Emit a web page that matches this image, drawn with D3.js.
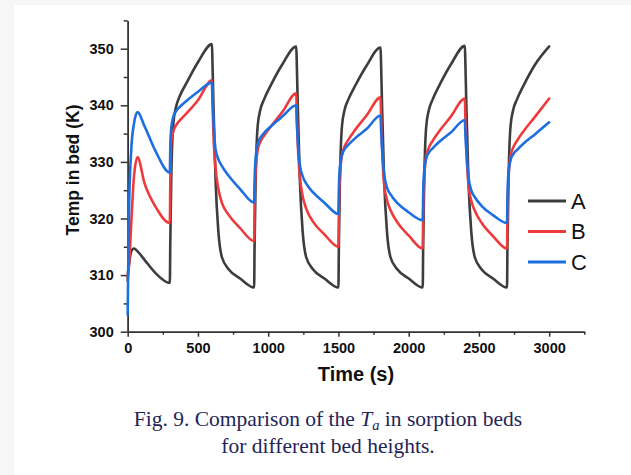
<!DOCTYPE html>
<html>
<head>
<meta charset="utf-8">
<script src="https://cdn.jsdelivr.net/npm/d3@7"></script>
<style>
  body { margin: 0; background: #f6f6f6; }
  svg { display: block; }
</style>
</head>
<body>
<svg id="chart" width="631" height="475"></svg>
<script>
// time grid (s), shared by the three curves
const TIME = [
  0, 3, 10, 25, 45, 70, 120, 200, 300,
  303, 310, 325, 345, 370, 420, 500, 600,
  603, 610, 625, 645, 670, 720, 800, 900,
  903, 910, 925, 945, 970, 1020, 1100, 1200,
  1203, 1210, 1225, 1245, 1270, 1320, 1400, 1500,
  1503, 1510, 1525, 1545, 1570, 1620, 1700, 1800,
  1803, 1810, 1825, 1845, 1870, 1920, 2000, 2100,
  2103, 2110, 2125, 2145, 2170, 2220, 2300, 2400,
  2403, 2410, 2425, 2445, 2470, 2520, 2600, 2700,
  2703, 2710, 2725, 2745, 2770, 2820, 2900, 3000
];

const TEMP_A = [
  309, 310.5, 312, 314.2, 314.7, 314.2, 312.7, 310.3, 308.6,
  315.5, 327, 336.8, 339.8, 341.6, 344.0, 347.6, 350.8,
  348, 340.5, 327, 317.8, 313.2, 311.0, 309.4, 307.8,
  315, 326, 336.3, 339.3, 341.0, 343.6, 347.2, 350.4,
  348, 340.5, 327, 317.8, 313.2, 311.0, 309.4, 307.8,
  315, 326, 336.3, 339.3, 341.0, 343.5, 347.0, 350.2,
  347.8, 340.3, 327, 317.8, 313.2, 311.0, 309.4, 307.8,
  315, 326, 336.3, 339.3, 341.0, 343.6, 347.2, 350.5,
  348, 340.5, 327, 317.8, 313.2, 311.0, 309.4, 307.8,
  315, 326, 336.3, 339.3, 341.0, 343.6, 347.2, 350.4
];

const TEMP_B = [
  309.5, 310.5, 312, 319, 327.5, 330.8, 326.2, 322.0, 319.2,
  326, 333.5, 335.4, 336.5, 337.3, 338.6, 340.9, 344.4,
  341.5, 335.2, 329.0, 325.3, 322.8, 320.6, 318.3, 316.0,
  322, 328, 332.0, 333.6, 334.6, 336.3, 338.8, 342.1,
  339, 333.5, 327.5, 324.0, 321.8, 319.4, 317.2, 315.0,
  321, 327, 331.2, 332.8, 333.9, 335.7, 338.2, 341.4,
  338.5, 333, 326.0, 323.3, 321.5, 319.3, 317.0, 314.7,
  320.5, 326.8, 331.0, 332.6, 333.7, 335.5, 338.0, 341.2,
  338.3, 332.8, 326.0, 323.2, 321.4, 319.2, 316.9, 314.7,
  320.5, 326.8, 331.0, 332.6, 333.7, 335.5, 338.0, 341.2
];

const TEMP_C = [
  303, 310, 322, 332, 336.8, 338.8, 336.3, 331.8, 328.1,
  332.5, 336, 338.0, 339.0, 339.7, 340.8, 342.4, 344.0,
  341.5, 337.5, 332.3, 330.5, 329.3, 327.5, 325.2, 322.8,
  326.5, 330.5, 333.2, 334.3, 335.1, 336.3, 338.0, 340.0,
  337.5, 334, 329.5, 327.5, 326.2, 324.6, 322.8, 320.8,
  325, 329, 331.2, 332.3, 333.0, 334.2, 335.8, 338.2,
  336, 332.5, 328.0, 325.5, 324.3, 322.7, 321.1, 319.7,
  324, 328.3, 330.6, 331.7, 332.4, 333.6, 335.2, 337.4,
  335.3, 332, 327.5, 325.0, 323.8, 322.2, 320.6, 319.2,
  323.6, 328, 330.3, 331.4, 332.1, 333.3, 334.9, 337.0
];

const SERIES_NAMES = ["A", "B", "C"];
const X_TICKS = [0, 500, 1000, 1500, 2000, 2500, 3000];
const X_MINOR = [250, 750, 1250, 1750, 2250, 2750, 3250];
const Y_TICKS = [300, 310, 320, 330, 340, 350];
const Y_MINOR = [305, 315, 325, 335, 345, 355];

const COLORS = ["#3d3d3d", "#ef3a3c", "#1d6fe0"];
const AXIS_FONT = "'Liberation Sans', Arial, sans-serif";

const svg = d3.select("#chart");

// page background with a faint grey margin at left/top
svg.append("rect").attr("x", 14).attr("y", 5)
  .attr("width", 617).attr("height", 470).attr("fill", "#ffffff");

const x = d3.scaleLinear().domain([0, 3250]).range([127.7, 584.3]);
const y = d3.scaleLinear().domain([300, 355]).range([331.7, 20.4]);

const styleAxis = (g) => {
  g.select(".domain").attr("stroke", "#333").attr("stroke-width", 1.5);
  g.selectAll(".tick line").attr("stroke", "#333").attr("stroke-width", 1.5);
  g.selectAll(".tick text")
    .attr("fill", "#111")
    .attr("font-family", AXIS_FONT)
    .attr("font-weight", "bold")
    .attr("font-size", "14.5px");
};

// minor ticks first, then major axes on top
svg.append("g")
  .attr("transform", `translate(0,${y(300)})`)
  .call(d3.axisBottom(x).tickValues(X_MINOR).tickSize(3).tickSizeOuter(0).tickFormat(""))
  .call(styleAxis);

svg.append("g")
  .attr("transform", `translate(${x(0)},0)`)
  .call(d3.axisLeft(y).tickValues(Y_MINOR).tickSize(4).tickSizeOuter(0).tickFormat(""))
  .call(styleAxis);

svg.append("g")
  .attr("transform", `translate(0,${y(300)})`)
  .call(d3.axisBottom(x).tickValues(X_TICKS).tickSize(5).tickPadding(6)
    .tickSizeOuter(0).tickFormat(d3.format("d")))
  .call(styleAxis);

svg.append("g")
  .attr("transform", `translate(${x(0)},0)`)
  .call(d3.axisLeft(y).tickValues(Y_TICKS).tickSize(7).tickPadding(7)
    .tickSizeOuter(0).tickFormat(d3.format("d")))
  .call(styleAxis);

// axis titles
svg.append("text")
  .attr("x", 356)
  .attr("y", 381)
  .attr("text-anchor", "middle")
  .attr("font-family", AXIS_FONT)
  .attr("font-weight", "bold")
  .attr("font-size", "20px")
  .attr("fill", "#111")
  .text("Time (s)");

svg.append("text")
  .attr("transform", "translate(79,170) rotate(-90)")
  .attr("text-anchor", "middle")
  .attr("font-family", AXIS_FONT)
  .attr("font-weight", "bold")
  .attr("font-size", "17.5px")
  .attr("fill", "#111")
  .text("Temp in bed (K)");

// curves
const line = d3.line()
  .x((d) => x(d[0]))
  .y((d) => y(d[1]))
  .curve(d3.curveMonotoneX);

[TEMP_A, TEMP_B, TEMP_C].forEach((values, i) => {
  svg.append("path")
    .datum(TIME.map((t, k) => [t, values[k]]))
    .attr("d", line)
    .attr("fill", "none")
    .attr("stroke", COLORS[i])
    .attr("stroke-width", 2.6)
    .attr("stroke-linejoin", "round")
    .attr("stroke-linecap", "round");
});

// legend
const legend = svg.append("g").attr("transform", "translate(528,201)");
SERIES_NAMES.forEach((name, i) => {
  const row = legend.append("g").attr("transform", `translate(0,${i * 30.5})`);
  row.append("line")
    .attr("x1", 0).attr("x2", 38)
    .attr("stroke", COLORS[i]).attr("stroke-width", 3);
  row.append("text")
    .attr("x", 43).attr("y", 7.8)
    .attr("font-family", AXIS_FONT)
    .attr("font-size", "22px")
    .attr("fill", "#111")
    .text(name);
});

// figure caption
const caption = svg.append("g")
  .attr("font-family", "'Liberation Serif', 'Times New Roman', serif")
  .attr("font-size", "21.5px")
  .attr("fill", "#1f2557")
  .attr("text-anchor", "middle");

const cap1 = caption.append("text").attr("x", 328).attr("y", 426);
cap1.append("tspan").text("Fig. 9. Comparison of the ");
cap1.append("tspan").attr("font-style", "italic").text("T");
cap1.append("tspan").attr("font-style", "italic").attr("font-size", "14.5px")
  .attr("dy", 4).text("a");
cap1.append("tspan").attr("dy", -4).text(" in sorption beds");

caption.append("text").attr("x", 328).attr("y", 453)
  .text("for different bed heights.");
</script>
</body>
</html>
